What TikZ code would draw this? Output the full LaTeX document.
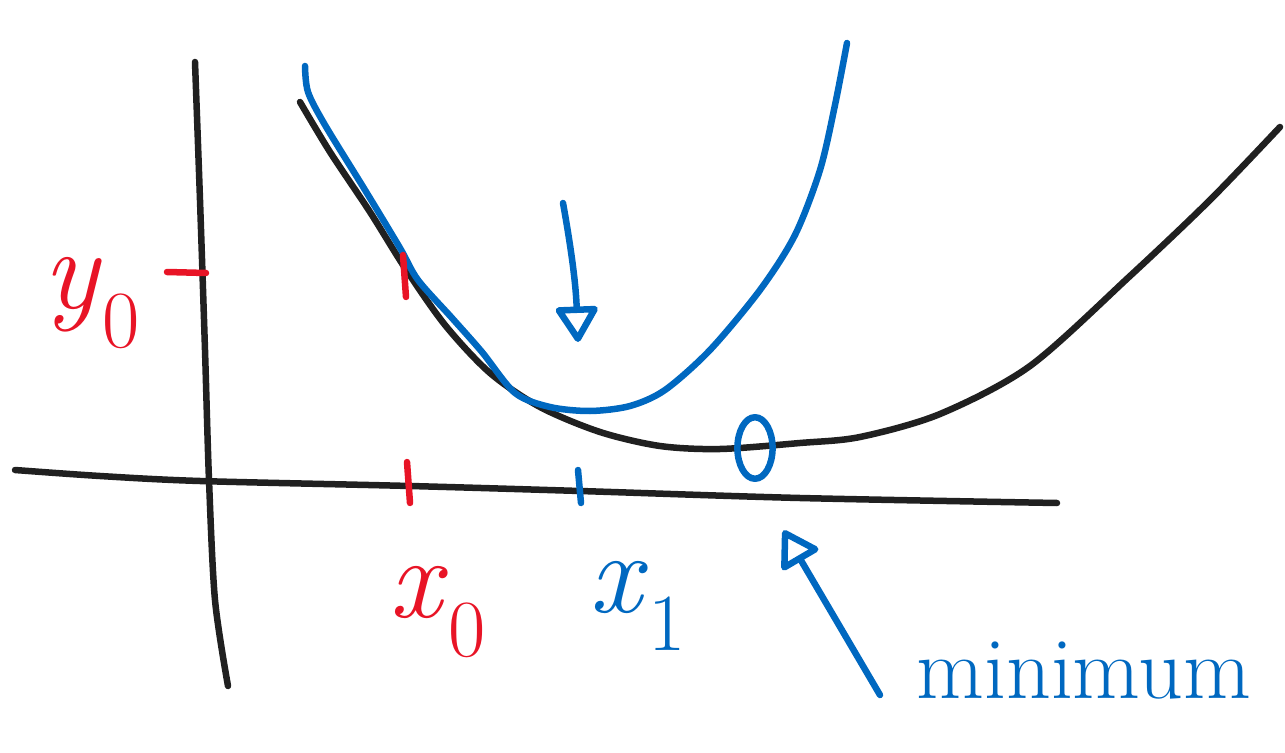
\documentclass[tikz,border=0pt]{standalone}
\usetikzlibrary{positioning,arrows.meta,shapes.geometric}
\definecolor{Ink}{RGB}{32,32,32}
\definecolor{Pen}{RGB}{0,104,192}
\definecolor{Mark}{RGB}{232,20,38}

\begin{document}
\begin{tikzpicture}[x=.02cm,y=-.02cm,
 ink/.style={line width=3.7pt,line cap=round,line join=round},
 k/.style={ink,draw=Ink},
 p/.style={ink,draw=Pen},
 r/.style={ink,draw=Mark},
 a/.style={p,-{Triangle[open,round,length=22pt,width=26pt]}},
 lbl/.style={inner sep=0pt,font=\fontsize{66}{66}\selectfont}]
\useasboundingbox (0,0) rectangle (1285,753);
\clip (0,0) rectangle (1285,753);
% axes
\draw[k] plot[smooth] coordinates {(195,62) (200,200) (205,350) (209,480) (215,600) (228,686)};
\draw[k] plot[smooth] coordinates {(15,470) (100,476) (200,481) (410,486) (580,491) (800,498) (1057,503)};
% function and its parabola
\draw[k] plot[smooth] coordinates {(300,102) (330,152) (370,212) (405,268) (445,325) (490,373) (540,407) (600,432) (660,446) (720,449) (800,443) (860,437) (940,414) (1030,366) (1130,276) (1210,200) (1280,127)};
\draw[p] plot[smooth] coordinates {(305,66) (308,92) (325,125) (365,190) (400,248) (418,280) (452,318) (482,352) (515,393) (550,407) (590,411) (630,406) (665,390) (710,350) (760,290) (795,235) (820,170) (835,105) (847,43)};
% ticks
\draw[r] (167,272) -- (206,273);
\draw[r] (403,255) -- (406,297);
\draw[r] (407,462) -- (410,503);
\draw[p] (578,470) -- (581,503);
% labels
\node[lbl,text=Mark] (y0) at (92,303) {\textit{y}\textsubscript{0}};
\node[lbl,text=Mark] (x0) at (438,612) {\textit{x}\textsubscript{0}};
\node[lbl,text=Pen] (x1) at (638,606) {\textit{x}\textsubscript{1}};
\node[lbl,text=Pen,anchor=base west,font=\fontsize{50}{50}\selectfont] (mn) at (916,698) {minimum};
% minimum and arrows
\node[p,ellipse,minimum width=20pt,minimum height=35pt] (opt) at (755,448) {};
\coordinate (from) at (563,203);
\coordinate (vtx) at (578,342);
\coordinate (tail) at (880,695);
\draw[a] (from) to[bend left=4] (vtx);
\draw[a,shorten >=32pt] (tail) -- (opt.south);
\end{tikzpicture}
\end{document}
